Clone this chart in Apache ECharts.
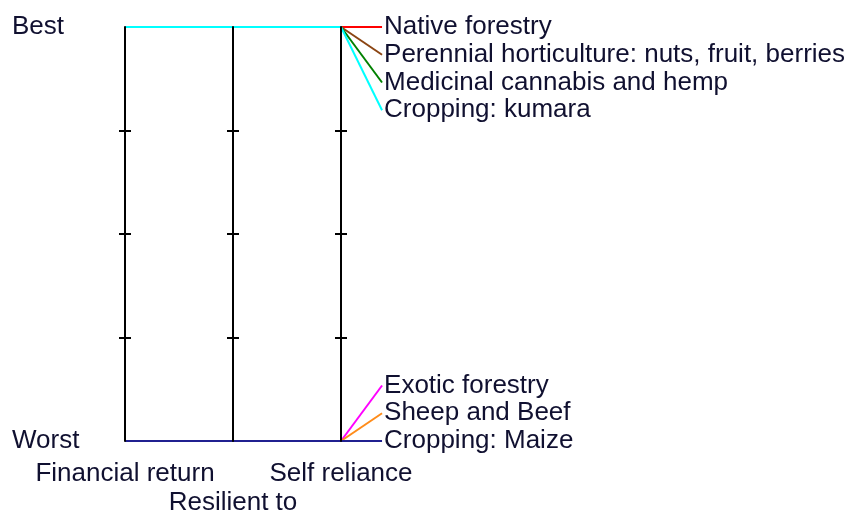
<!DOCTYPE html>
<html>
<head>
<meta charset="utf-8">
<script src="https://cdn.jsdelivr.net/npm/echarts@6/dist/echarts.min.js"></script>
<style>
  html, body { margin: 0; padding: 0; background: #fff; }
  #div-chart { width: 851px; height: 510px; }
</style>
</head>
<body>
<div id="div-chart"></div>
<script>
"use strict";

//
// Data
//
const dimensions = ["Financial return", "Resilient to", "Self reliance"];
const scale_labels = ["Worst", "Best"]; // at 0 and 4
const series_names = [
  "Native forestry",
  "Perennial horticulture: nuts, fruit, berries",
  "Medicinal cannabis and hemp",
  "Cropping: kumara",
  "Exotic forestry",
  "Sheep and Beef",
  "Cropping: Maize",
];
const series_scores = [
  [4, 4, 4],
  [4, 4, 4],
  [4, 4, 4],
  [4, 4, 4],
  [0, 0, 0],
  [0, 0, 0],
  [0, 0, 0],
];
const series_colors = [
  "#ff0000", "#8b4513", "#008000", "#00ffff",
  "#ff00ff", "#ff8c1a", "#202090",
];

//
// Layout helpers
//
const font = "Liberation Sans, Arial, sans-serif";
const font_size = 26;
const text_color = "#101030";
const label_step = 0.268; // vertical spacing of end labels, in axis units
const label_dx = 0.38; // horizontal leader length, in axis units
const axis_gap = 108; // px between parallel axes

const grid_box = { left: 125, right: 510, top: 27, bottom: 69 };

// parallel axes: line, right-hand tick half and names
const parallel_axes = dimensions.map((name, i) => ({
  dim: i,
  type: "value",
  min: 0,
  max: 4,
  interval: 1,
  name: name,
  nameLocation: "start",
  nameGap: i === 1 ? 49 : 20,
  nameTruncate: { maxWidth: 500 },
  nameTextStyle: { fontFamily: font, fontSize: font_size, color: text_color },
  axisLine: { show: true, lineStyle: { color: "#000", width: 2 } },
  axisTick: {
    show: true,
    length: 6,
    customValues: [1, 2, 3],
    lineStyle: { color: "#000", width: 2 },
  },
  axisLabel: { formatter: () => "", color: "transparent" },
  splitLine: { show: false },
}));

// cartesian y axes on the same spots: left-hand tick half
// (the first one also carries the Best / Worst labels)
const tick_axes = dimensions.map((name, i) => ({
  type: "value",
  position: "left",
  offset: -i * axis_gap,
  min: 0,
  max: 4,
  interval: i === 0 ? 4 : 1,
  axisLine: { show: false },
  axisTick: {
    show: true,
    length: 6,
    customValues: [1, 2, 3],
    lineStyle: { color: "#000", width: 2 },
  },
  splitLine: { show: false },
  axisLabel: {
    show: i === 0,
    formatter: (v) => scale_labels[v / 4],
    fontFamily: font,
    fontSize: font_size,
    color: text_color,
    align: "left",
    margin: 113,
  },
}));

// leader lines from the last axis to each name
function leader_series() {
  const last = dimensions.length - 1;
  const counters = {};
  return series_names.map((name, i) => {
    const v = series_scores[i][last];
    const k = counters[v] || 0;
    counters[v] = k + 1;
    // top group stacks downwards, bottom group stacks upwards
    const n_same = series_scores.filter((s) => s[last] === v).length;
    const y_end = v >= 2 ? v - k * label_step : v + (n_same - 1 - k) * label_step;
    return {
      type: "line",
      name: name,
      data: [[last, v], [last + label_dx, y_end]],
      symbol: "none",
      silent: true,
      animation: false,
      lineStyle: { color: series_colors[i], width: 2 },
      endLabel: {
        show: true,
        formatter: name,
        distance: 2,
        fontFamily: font,
        fontSize: font_size,
        color: text_color,
      },
    };
  });
}

//
// Chart
//
const chart = echarts.init(document.getElementById("div-chart"));

const data_series = series_names.map((name, i) => ({
  type: "parallel",
  name: name,
  data: [series_scores[i]],
  lineStyle: { color: series_colors[i], width: 2, opacity: 1 },
  silent: true,
  animation: false,
  z: 5,
}));

chart.setOption({
  animation: false,
  parallel: Object.assign({ layout: "horizontal" }, grid_box),
  parallelAxis: parallel_axes,
  grid: {
    left: grid_box.left,
    top: grid_box.top,
    bottom: grid_box.bottom,
    right: 851 - (grid_box.left + 4 * axis_gap),
  },
  xAxis: { type: "value", min: 0, max: 4, show: false },
  yAxis: tick_axes,
  series: [...data_series, ...leader_series()],
});
</script>
</body>
</html>
